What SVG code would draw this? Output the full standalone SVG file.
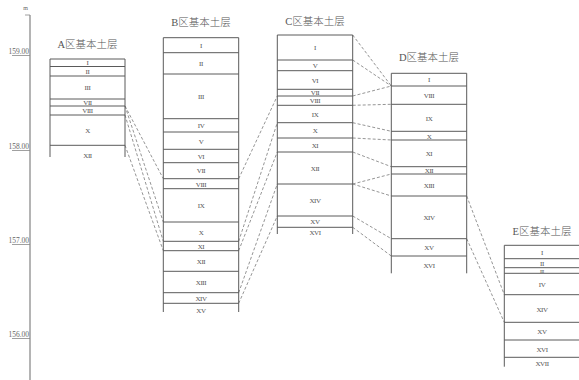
<svg xmlns="http://www.w3.org/2000/svg" width="579" height="380" viewBox="0 0 579 380">
  <style>
    .bg { fill: #ffffff; }
    .axis { stroke: #b4b4b4; stroke-width: 2; fill: none; }
    .tick { stroke: #888; stroke-width: 0.8; fill: none; }
    .elev { font-family: "Liberation Serif", serif; font-size: 7.5px; fill: #666; text-anchor: end; }
    .col { stroke: #5a5a5a; stroke-width: 1; fill: none; }
    .title { font-family: "Liberation Serif", "Noto Sans CJK SC", serif; font-size: 10.5px; font-weight: 300; fill: #555; text-anchor: middle; }
    .lyr { font-family: "Liberation Serif", serif; font-size: 7px; fill: #555; text-anchor: middle; letter-spacing: -0.4px; }
    .link { stroke: #7a7a7a; stroke-width: 0.8; stroke-dasharray: 3 2; fill: none; }
  </style>
  <rect class="bg" x="0" y="0" width="579" height="380"/>

  <!-- elevation scale -->
  <g id="scale">
    <text x="28" y="10" class="elev" style="font-size:6px">m</text>
    <path class="axis" d="M30 15 V380"/>
    <path class="tick" d="M25 15 H30"/>
    <text x="29" y="54" class="elev">159.00</text>
    <path class="tick" d="M12 55.5 H30"/>
    <text x="29" y="149" class="elev">158.00</text>
    <path class="tick" d="M12 150.5 H30"/>
    <text x="29" y="243" class="elev">157.00</text>
    <path class="tick" d="M12 244.5 H30"/>
    <text x="29" y="337" class="elev">156.00</text>
    <path class="tick" d="M12 338.5 H30"/>
  </g>

  <!-- connectors between columns -->
  <g id="connectors">
    <!-- A to B -->
    <path class="link" d="M125 106 L163.3 178.7"/>
    <path class="link" d="M125 106 L163.3 222"/>
    <path class="link" d="M125 115 L163.3 241.3"/>
    <path class="link" d="M125 145.3 L163.3 250.7"/>
    <!-- B to C -->
    <path class="link" d="M238.7 178.7 L277.3 96"/>
    <path class="link" d="M238.7 241.3 L277.3 122.7"/>
    <path class="link" d="M238.7 250.7 L277.3 152"/>
    <path class="link" d="M238.7 292.7 L277.3 184"/>
    <path class="link" d="M238.7 303.3 L277.3 216"/>
    <!-- C to D -->
    <path class="link" d="M352.7 35 L391.3 86"/>
    <path class="link" d="M352.7 60 L391.3 86"/>
    <path class="link" d="M352.7 96 L391.3 86"/>
    <path class="link" d="M352.7 105.3 L391.3 104.3"/>
    <path class="link" d="M352.7 122.7 L391.3 131.3"/>
    <path class="link" d="M352.7 138 L391.3 140"/>
    <path class="link" d="M352.7 152 L391.3 166.7"/>
    <path class="link" d="M352.7 184 L391.3 174"/>
    <path class="link" d="M352.7 184 L391.3 196"/>
    <path class="link" d="M352.7 216 L391.3 238.7"/>
    <path class="link" d="M352.7 227.3 L391.3 256"/>
    <!-- D to E -->
    <path class="link" d="M466.7 196 L504.3 294.7"/>
    <path class="link" d="M466.7 238.7 L504.3 322.3"/>
  </g>

  <!-- zone A -->
  <g id="zoneA">
    <text x="87.5" y="48" class="title">A区基本土层</text>
    <path class="col" d="M50 157 V59 H125 V157 M50 66.5 H125 M50 76 H125 M50 99 H125 M50 106 H125 M50 115 H125 M50 145.3 H125"/>
    <text x="87.5" y="65" class="lyr">I</text>
    <text x="87.5" y="73.5" class="lyr">II</text>
    <text x="87.5" y="90" class="lyr">III</text>
    <text x="87.5" y="105" class="lyr">VII</text>
    <text x="87.5" y="113" class="lyr">VIII</text>
    <text x="87.5" y="132.5" class="lyr">X</text>
    <text x="87.5" y="157.5" class="lyr">XII</text>
  </g>

  <!-- zone B -->
  <g id="zoneB">
    <text x="201" y="26" class="title">B区基本土层</text>
    <path class="col" d="M163.3 312 V37.7 H238.7 V312 M163.3 52.7 H238.7 M163.3 74 H238.7 M163.3 118.7 H238.7 M163.3 132 H238.7 M163.3 149.3 H238.7 M163.3 162.7 H238.7 M163.3 178.7 H238.7 M163.3 188.7 H238.7 M163.3 222 H238.7 M163.3 241.3 H238.7 M163.3 250.7 H238.7 M163.3 271.3 H238.7 M163.3 292.7 H238.7 M163.3 303.3 H238.7"/>
    <text x="201" y="47.5" class="lyr">I</text>
    <text x="201" y="65.5" class="lyr">II</text>
    <text x="201" y="98.5" class="lyr">III</text>
    <text x="201" y="128" class="lyr">IV</text>
    <text x="201" y="143.5" class="lyr">V</text>
    <text x="201" y="158.5" class="lyr">VI</text>
    <text x="201" y="173" class="lyr">VII</text>
    <text x="201" y="186.5" class="lyr">VIII</text>
    <text x="201" y="208" class="lyr">IX</text>
    <text x="201" y="234.5" class="lyr">X</text>
    <text x="201" y="248.5" class="lyr">XI</text>
    <text x="201" y="263.5" class="lyr">XII</text>
    <text x="201" y="284.5" class="lyr">XIII</text>
    <text x="201" y="300.5" class="lyr">XIV</text>
    <text x="201" y="312.5" class="lyr">XV</text>
  </g>

  <!-- zone C -->
  <g id="zoneC">
    <text x="315" y="24.5" class="title">C区基本土层</text>
    <path class="col" d="M277.3 234 V35 H352.7 V234 M277.3 60 H352.7 M277.3 70.7 H352.7 M277.3 89.3 H352.7 M277.3 96 H352.7 M277.3 105.3 H352.7 M277.3 122.7 H352.7 M277.3 138 H352.7 M277.3 152 H352.7 M277.3 184 H352.7 M277.3 216 H352.7 M277.3 227.3 H352.7"/>
    <text x="315" y="50" class="lyr">I</text>
    <text x="315" y="68" class="lyr">V</text>
    <text x="315" y="82.5" class="lyr">VI</text>
    <text x="315" y="95" class="lyr">VII</text>
    <text x="315" y="102.5" class="lyr">VIII</text>
    <text x="315" y="116.5" class="lyr">IX</text>
    <text x="315" y="132.5" class="lyr">X</text>
    <text x="315" y="147.5" class="lyr">XI</text>
    <text x="315" y="171" class="lyr">XII</text>
    <text x="315" y="202.5" class="lyr">XIV</text>
    <text x="315" y="224" class="lyr">XV</text>
    <text x="315" y="234.5" class="lyr">XVI</text>
  </g>

  <!-- zone D -->
  <g id="zoneD">
    <text x="429" y="60.5" class="title">D区基本土层</text>
    <path class="col" d="M391.3 273.3 V73.3 H466.7 V273.3 M391.3 86 H466.7 M391.3 104.3 H466.7 M391.3 131.3 H466.7 M391.3 140 H466.7 M391.3 166.7 H466.7 M391.3 174 H466.7 M391.3 196 H466.7 M391.3 238.7 H466.7 M391.3 256 H466.7"/>
    <text x="429" y="82" class="lyr">I</text>
    <text x="429" y="97.5" class="lyr">VIII</text>
    <text x="429" y="120.5" class="lyr">IX</text>
    <text x="429" y="138.5" class="lyr">X</text>
    <text x="429" y="156" class="lyr">XI</text>
    <text x="429" y="173" class="lyr">XII</text>
    <text x="429" y="187.5" class="lyr">XIII</text>
    <text x="429" y="219.5" class="lyr">XIV</text>
    <text x="429" y="249.5" class="lyr">XV</text>
    <text x="429" y="267.5" class="lyr">XVI</text>
  </g>

  <!-- zone E -->
  <g id="zoneE">
    <text x="542" y="235" class="title">E区基本土层</text>
    <path class="col" d="M504.3 366.7 V245.3 H581 M504.3 258.7 H581 M504.3 267.7 H581 M504.3 273.3 H581 M504.3 294.7 H581 M504.3 322.3 H581 M504.3 340 H581 M504.3 357.3 H581"/>
    <text x="542" y="254.5" class="lyr">I</text>
    <text x="542" y="265.5" class="lyr">II</text>
    <text x="542" y="272.8" class="lyr" style="font-size:5px">III</text>
    <text x="542" y="287" class="lyr">IV</text>
    <text x="542" y="312" class="lyr">XIV</text>
    <text x="542" y="334" class="lyr">XV</text>
    <text x="542" y="351.5" class="lyr">XVI</text>
    <text x="542" y="365.5" class="lyr">XVII</text>
  </g>
</svg>
